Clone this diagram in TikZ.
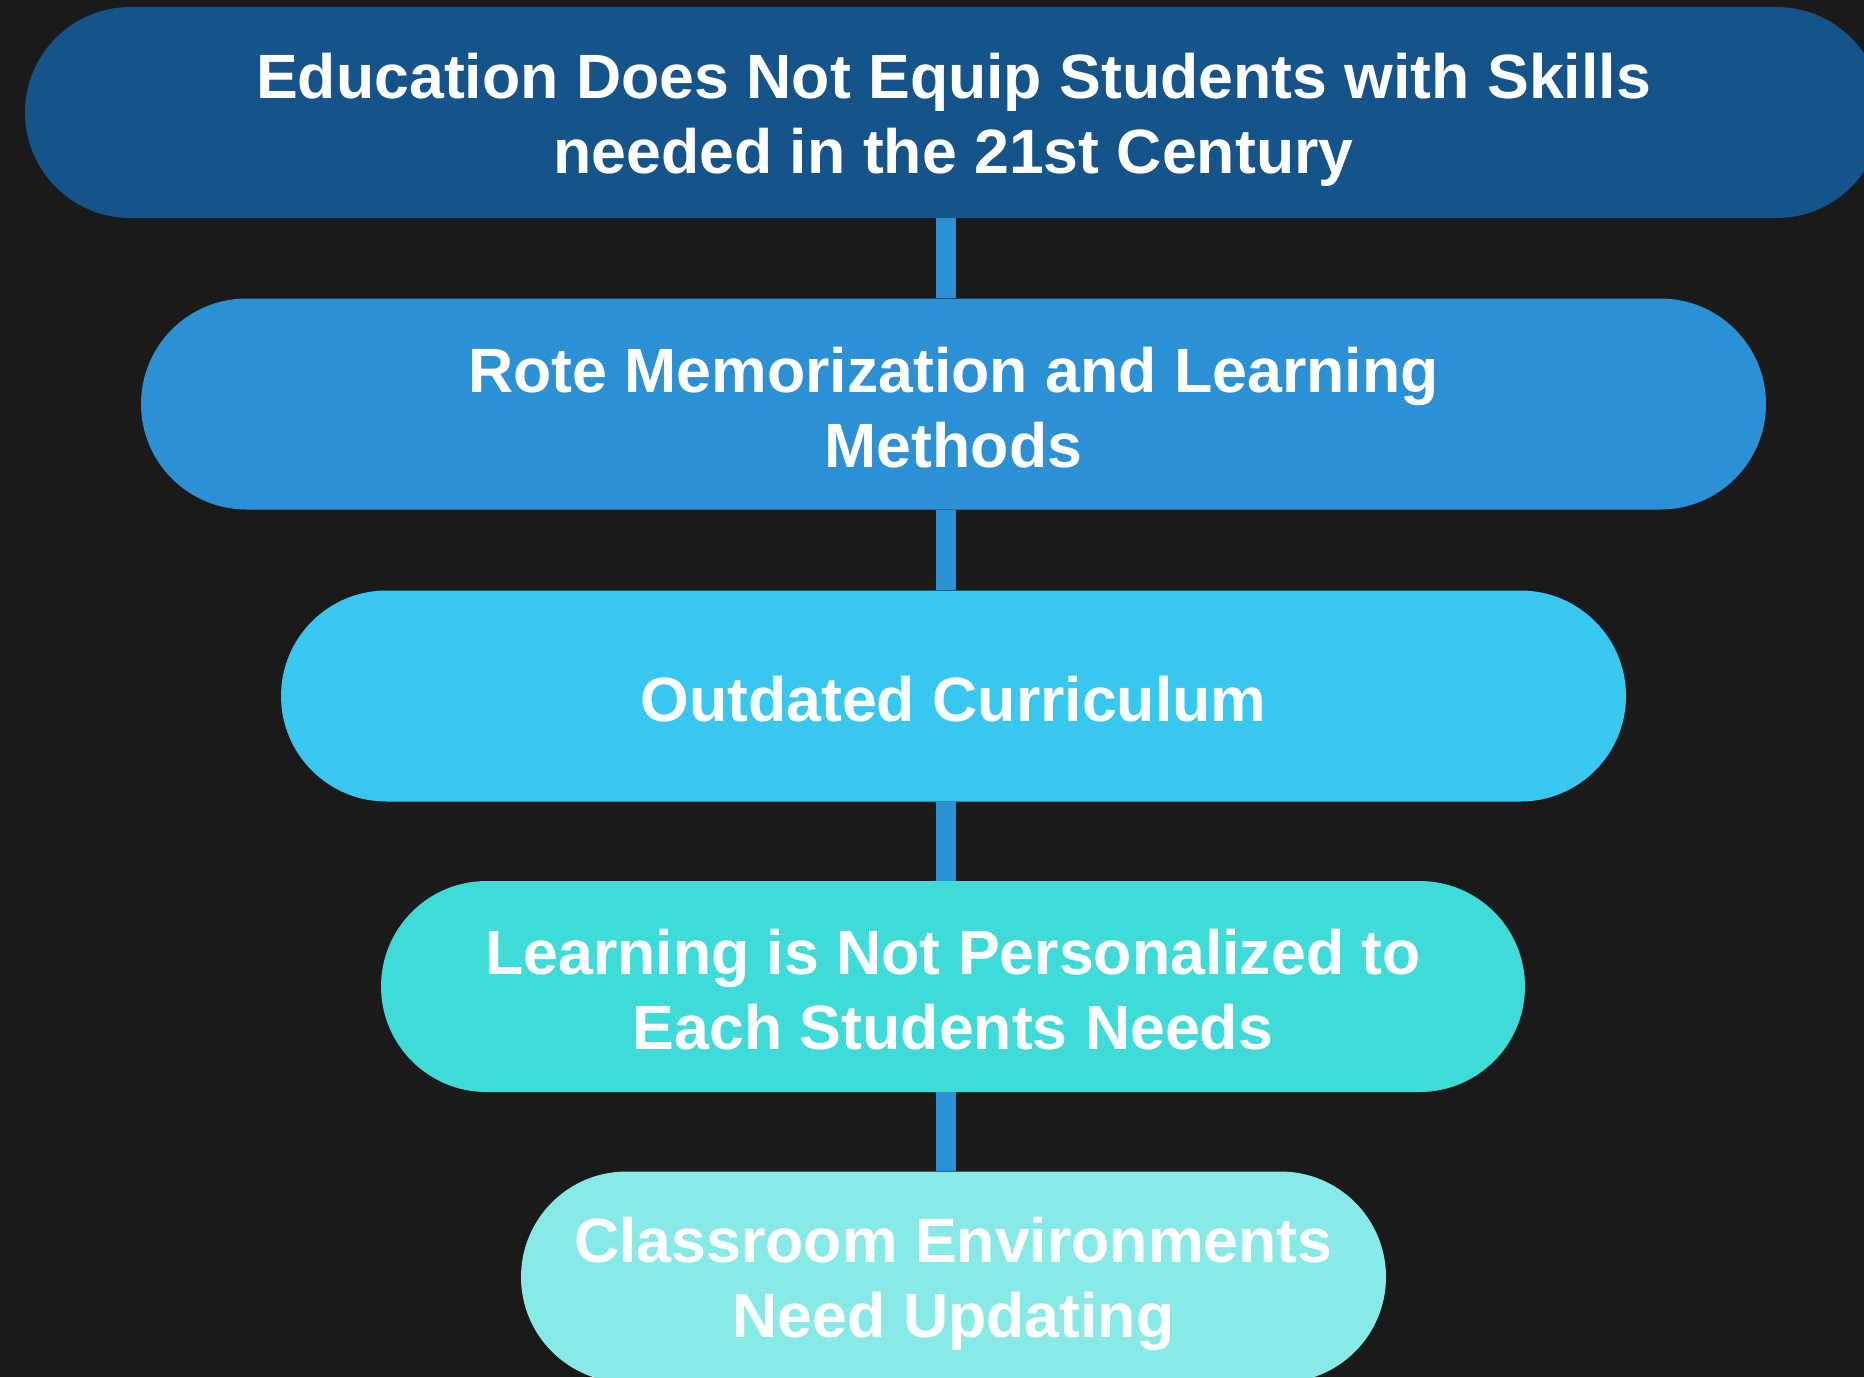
\documentclass[tikz,border=0pt]{standalone}
\usepackage{fontspec}
\setmainfont{Liberation Sans}
\definecolor{bg}{HTML}{1A1A1A}
\definecolor{c1}{HTML}{15548A}
\definecolor{c2}{HTML}{2C90D5}
\definecolor{c3}{HTML}{38C8EF}
\definecolor{c4}{HTML}{3FDBD8}
\definecolor{c5}{HTML}{88EAE7}
\newcommand\pst{\rule[-9pt]{0pt}{69pt}}
\tikzset{
  pill/.style={fill=#1, draw=none, rounded corners=105.5pt, minimum height=211pt,
    inner sep=0pt, align=center, text=white,
    font=\fontsize{62.6}{75}\selectfont\bfseries},
  conn/.style={draw=c2, line width=20pt}
}
\begin{document}
\begin{tikzpicture}[x=1pt,y=-1pt]
\useasboundingbox (0,0) rectangle (1864,1377);
\clip (0,0) rectangle (1864,1377);
\fill[bg] (0,0) rectangle (1864,1377);
\coordinate (cx) at (946,0);
\node[pill=c1, minimum width=1857pt] (b1) at (953.5,112.5) {\pst Education Does Not Equip Students with Skills\\\pst needed in the 21st Century};
\node[pill=c2, minimum width=1625pt] (b2) at (953.5,404) {\pst Rote Memorization and Learning\\\pst Methods};
\node[pill=c3, minimum width=1345pt] (b3) at (953.5,696) {\pst Outdated Curriculum};
\node[pill=c4, minimum width=1144pt] (b4) at (953,986.5) {\pst Learning is Not Personalized to\\\pst Each Students Needs};
\node[pill=c5, minimum width=865pt] (b5) at (953.5,1277) {\pst Classroom Environments\\\pst Need Updating};
\draw[conn] (b1.south -| cx) -- (b2.north -| cx);
\draw[conn] (b2.south -| cx) -- (b3.north -| cx);
\draw[conn] (b3.south -| cx) -- (b4.north -| cx);
\draw[conn] (b4.south -| cx) -- (b5.north -| cx);
\end{tikzpicture}
\end{document}
